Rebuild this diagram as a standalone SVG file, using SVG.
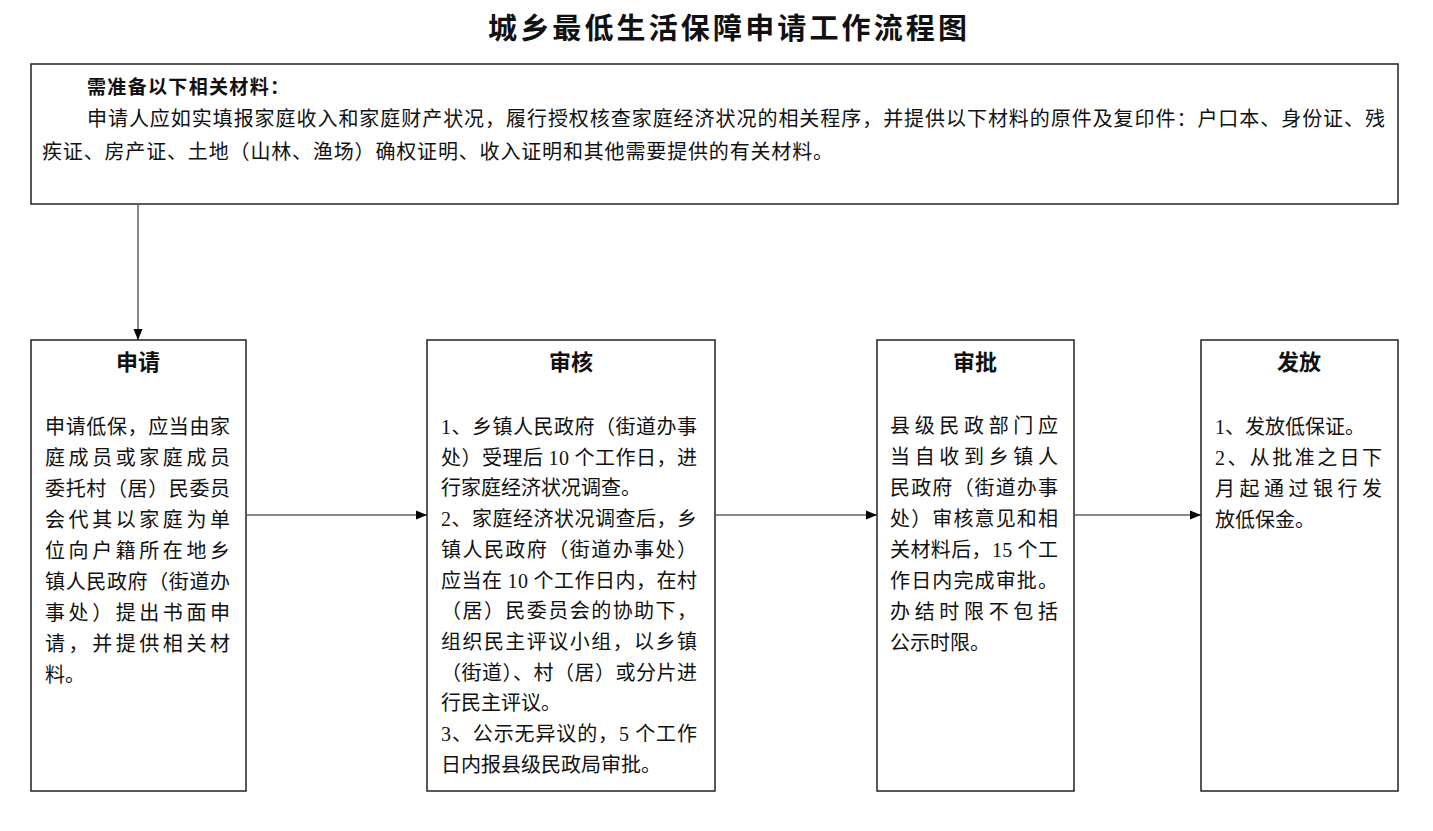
<svg xmlns="http://www.w3.org/2000/svg" width="1433" height="831" viewBox="0 0 1433 831">
<style>
.box{fill:#fff;stroke:#222;stroke-width:1.5}
.t{font-family:"Noto Sans CJK SC","Noto Sans",sans-serif;font-size:20px;fill:#111}
.h{font-family:"Noto Sans CJK SC","Noto Sans",sans-serif;font-size:22px;font-weight:bold;fill:#111}
.n{font-family:"Liberation Serif",serif}
.conn{stroke:#111;stroke-width:1;fill:none}
</style>
<defs>
<marker id="arr" markerUnits="userSpaceOnUse" markerWidth="12" markerHeight="12" refX="11" refY="6" orient="auto">
<path d="M0,1.5 L11,6 L0,10.5 Z" fill="#000"/>
</marker>
</defs>
<rect width="1433" height="831" fill="#fff"/>
<text x="488" y="39" textLength="479" lengthAdjust="spacing" style="font-family:'Noto Sans CJK SC',sans-serif;font-size:29px;font-weight:bold;fill:#111">城乡最低生活保障申请工作流程图</text>

<g id="materials">
<rect class="box" x="31" y="64" width="1367" height="140"/>
<text class="t" x="87" y="94" textLength="202" lengthAdjust="spacing" style="font-weight:bold;font-size:19px">需准备以下相关材料：</text>
<text class="t" x="87" y="126" textLength="1298" lengthAdjust="spacing">申请人应如实填报家庭收入和家庭财产状况，履行授权核查家庭经济状况的相关程序，并提供以下材料的原件及复印件：户口本、身份证、残</text>
<text class="t" x="42" y="159" textLength="791" lengthAdjust="spacing">疾证、房产证、土地（山林、渔场）确权证明、收入证明和其他需要提供的有关材料。</text>
</g>

<g id="connectors">
<line class="conn" x1="138" y1="205" x2="138" y2="340" marker-end="url(#arr)"/>
<line class="conn" x1="247" y1="515" x2="427" y2="515" marker-end="url(#arr)"/>
<line class="conn" x1="716" y1="515" x2="877" y2="515" marker-end="url(#arr)"/>
<line class="conn" x1="1075" y1="515" x2="1201" y2="515" marker-end="url(#arr)"/>
</g>

<g id="apply">
<rect class="box" x="31" y="340" width="215" height="451"/>
<text class="h" x="138" y="370" text-anchor="middle">申请</text>
<text class="t" x="45" y="434" textLength="185" lengthAdjust="spacing">申请低保，应当由家</text>
<text class="t" x="45" y="465" textLength="185" lengthAdjust="spacing">庭成员或家庭成员</text>
<text class="t" x="45" y="496" textLength="185" lengthAdjust="spacing">委托村（居）民委员</text>
<text class="t" x="45" y="527" textLength="185" lengthAdjust="spacing">会代其以家庭为单</text>
<text class="t" x="45" y="558" textLength="185" lengthAdjust="spacing">位向户籍所在地乡</text>
<text class="t" x="45" y="589" textLength="185" lengthAdjust="spacing">镇人民政府（街道办</text>
<text class="t" x="45" y="620" textLength="185" lengthAdjust="spacing">事处）提出书面申</text>
<text class="t" x="45" y="651" textLength="185" lengthAdjust="spacing">请，并提供相关材</text>
<text class="t" x="45" y="682">料。</text>
</g>

<g id="review">
<rect class="box" x="427" y="340" width="288" height="451"/>
<text class="h" x="571" y="370" text-anchor="middle">审核</text>
<text class="t" x="441" y="434" textLength="256" lengthAdjust="spacing"><tspan class="n">1</tspan>、乡镇人民政府（街道办事</text>
<text class="t" x="441" y="464.7" textLength="256" lengthAdjust="spacing">处）受理后 <tspan class="n">10</tspan> 个工作日，进</text>
<text class="t" x="441" y="495.4">行家庭经济状况调查。</text>
<text class="t" x="441" y="526.1" textLength="256" lengthAdjust="spacing"><tspan class="n">2</tspan>、家庭经济状况调查后，乡</text>
<text class="t" x="441" y="556.8" textLength="256" lengthAdjust="spacing">镇人民政府（街道办事处）</text>
<text class="t" x="441" y="587.5" textLength="256" lengthAdjust="spacing">应当在 <tspan class="n">10</tspan> 个工作日内，在村</text>
<text class="t" x="441" y="618.2" textLength="256" lengthAdjust="spacing">（居）民委员会的协助下，</text>
<text class="t" x="441" y="648.9" textLength="256" lengthAdjust="spacing">组织民主评议小组，以乡镇</text>
<text class="t" x="441" y="679.6" textLength="256" lengthAdjust="spacing">（街道）、村（居）或分片进</text>
<text class="t" x="441" y="710.3">行民主评议。</text>
<text class="t" x="441" y="741" textLength="256" lengthAdjust="spacing"><tspan class="n">3</tspan>、公示无异议的，<tspan class="n">5</tspan> 个工作</text>
<text class="t" x="441" y="771.7">日内报县级民政局审批。</text>
</g>

<g id="approve">
<rect class="box" x="877" y="340" width="197" height="451"/>
<text class="h" x="975" y="370" text-anchor="middle">审批</text>
<text class="t" x="890" y="433" textLength="168" lengthAdjust="spacing">县级民政部门应</text>
<text class="t" x="890" y="464" textLength="168" lengthAdjust="spacing">当自收到乡镇人</text>
<text class="t" x="890" y="495" textLength="168" lengthAdjust="spacing">民政府（街道办事</text>
<text class="t" x="890" y="526" textLength="168" lengthAdjust="spacing">处）审核意见和相</text>
<text class="t" x="890" y="557" textLength="168" lengthAdjust="spacing">关材料后，<tspan class="n">15</tspan> 个工</text>
<text class="t" x="890" y="588" textLength="168" lengthAdjust="spacing">作日内完成审批。</text>
<text class="t" x="890" y="619" textLength="168" lengthAdjust="spacing">办结时限不包括</text>
<text class="t" x="890" y="650">公示时限。</text>
</g>

<g id="issue">
<rect class="box" x="1201" y="340" width="197" height="451"/>
<text class="h" x="1299" y="370" text-anchor="middle">发放</text>
<text class="t" x="1215" y="434"><tspan class="n">1</tspan>、发放低保证。</text>
<text class="t" x="1215" y="465" textLength="167" lengthAdjust="spacing"><tspan class="n">2</tspan>、从批准之日下</text>
<text class="t" x="1215" y="496" textLength="167" lengthAdjust="spacing">月起通过银行发</text>
<text class="t" x="1215" y="527">放低保金。</text>
</g>
</svg>
